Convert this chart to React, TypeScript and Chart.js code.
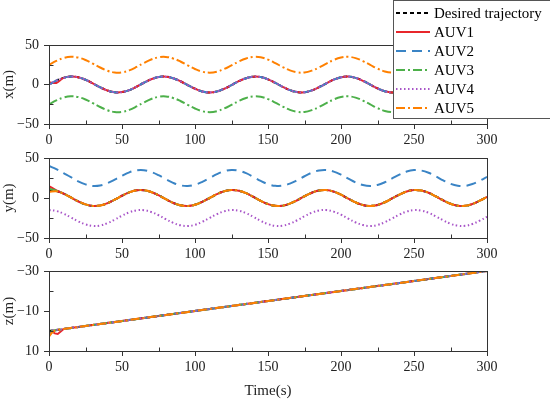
import { useEffect, useRef } from "react";
import { Chart, registerables } from "chart.js";

Chart.register(...registerables);

// sample times (s) for the x and y panels
const TIME = [
  0, 5, 10, 15, 20, 25, 30, 35, 40, 45, 50, 55, 60, 65, 70, 75, 80, 85, 90, 95, 100,
  105, 110, 115, 120, 125, 130, 135, 140, 145, 150, 155, 160, 165, 170, 175, 180, 185,
  190, 195, 200, 205, 210, 215, 220, 225, 230, 235, 240, 245, 250, 255, 260, 265, 270,
  275, 280, 285, 290, 295, 300,
];

const DESIRED_X = [
  0, 4.8, 8.4, 10.0, 9.1, 6.0, 1.4, -3.5, -7.6, -9.8, -9.6, -7.1, -2.8, 2.2, 6.6, 9.4,
  9.9, 8.0, 4.1, -0.8, -5.4, -8.8, -10.0, -8.8, -5.4, -0.7, 4.2, 8.0, 9.9, 9.4, 6.5, 2.1,
  -2.9, -7.1, -9.6, -9.8, -7.5, -3.4, 1.5, 6.1, 9.1, 10.0, 8.4, 4.7, -0.1, -4.9, -8.5,
  -10.0, -9.1, -5.9, -1.3, 3.6, 7.6, 9.8, 9.6, 7.0, 2.7, -2.2, -6.6, -9.4, -9.9,
];
const AUV1_X_START = [3.0, 2.0];
const AUV3_X = [
  -25.0, -20.2, -16.6, -15.0, -15.9, -19.0, -23.6, -28.5, -32.6, -34.8, -34.6, -32.1,
  -27.8, -22.8, -18.4, -15.6, -15.1, -17.0, -20.9, -25.8, -30.4, -33.8, -35.0, -33.8,
  -30.4, -25.7, -20.8, -17.0, -15.1, -15.6, -18.5, -22.9, -27.9, -32.1, -34.6, -34.8,
  -32.5, -28.4, -23.5, -18.9, -15.9, -15.0, -16.6, -20.3, -25.1, -29.9, -33.5, -35.0,
  -34.1, -30.9, -26.3, -21.4, -17.4, -15.2, -15.4, -18.0, -22.3, -27.2, -31.6, -34.4, -34.9,
];
const AUV5_X = [
  25.0, 29.8, 33.4, 35.0, 34.1, 31.0, 26.4, 21.5, 17.4, 15.2, 15.4, 17.9, 22.2, 27.2,
  31.6, 34.4, 34.9, 33.0, 29.1, 24.2, 19.6, 16.2, 15.0, 16.2, 19.6, 24.3, 29.2, 33.0,
  34.9, 34.4, 31.5, 27.1, 22.1, 17.9, 15.4, 15.2, 17.5, 21.6, 26.5, 31.1, 34.1, 35.0,
  33.4, 29.7, 24.9, 20.1, 16.5, 15.0, 15.9, 19.1, 23.7, 28.6, 32.6, 34.8, 34.6, 32.0,
  27.7, 22.8, 18.4, 15.6, 15.1,
];

const DESIRED_Y = [
  10.0, 8.8, 5.4, 0.7, -4.2, -8.0, -9.9, -9.4, -6.5, -2.1, 2.8, 7.1, 9.6, 9.8, 7.5, 3.5,
  -1.5, -6.0, -9.1, -10.0, -8.4, -4.8, 0.0, 4.8, 8.4, 10.0, 9.1, 6.0, 1.4, -3.6, -7.6,
  -9.8, -9.6, -7.0, -2.8, 2.2, 6.6, 9.4, 9.9, 8.0, 4.1, -0.8, -5.5, -8.8, -10.0, -8.7,
  -5.3, -0.6, 4.2, 8.1, 9.9, 9.3, 6.5, 2.0, -2.9, -7.2, -9.6, -9.8, -7.5, -3.4, 1.5,
];
const AUV1_Y_START = [15.0, 9.5];
const AUV3_Y_START = [11.5, 9.2];
const AUV5_Y_START = [7.5, 8.4];
const AUV2_Y = [
  40.0, 36.0, 31.0, 26.0, 20.8, 17.0, 15.1, 15.6, 18.5, 22.9, 27.8, 32.1, 34.6, 34.8,
  32.5, 28.5, 23.5, 19.0, 15.9, 15.0, 16.6, 20.2, 25.0, 29.8, 33.4, 35.0, 34.1, 31.0,
  26.4, 21.4, 17.4, 15.2, 15.4, 18.0, 22.2, 27.2, 31.6, 34.4, 34.9, 33.0, 29.1, 24.2,
  19.5, 16.2, 15.0, 16.3, 19.7, 24.4, 29.2, 33.1, 34.9, 34.3, 31.5, 27.0, 22.1, 17.8,
  15.4, 15.2, 17.5, 21.6, 26.5,
];
const AUV4_Y = [
  -15.0, -16.2, -19.6, -24.3, -29.2, -33.0, -34.9, -34.4, -31.5, -27.1, -22.2, -17.9,
  -15.4, -15.2, -17.5, -21.5, -26.5, -31.0, -34.1, -35.0, -33.4, -29.8, -25.0, -20.2,
  -16.6, -15.0, -15.9, -19.0, -23.6, -28.6, -32.6, -34.8, -34.6, -32.0, -27.8, -22.8,
  -18.4, -15.6, -15.1, -17.0, -20.9, -25.8, -30.5, -33.8, -35.0, -33.7, -30.3, -25.6,
  -20.8, -16.9, -15.1, -15.7, -18.5, -23.0, -27.9, -32.2, -34.6, -34.8, -32.5, -28.4, -23.5,
];

// z panel: a short start-up wobble, then a straight dive
const Z_TIME = [0, 2, 4, 6, 8, 10, 300];
const DESIRED_Z = [0, -0.2, -0.4, -0.6, -0.8, -1.0, -30];
const AUV1_Z = [1.0, 0.2, 1.2, 1.5, 0.3, -1.0, -30];
const AUV2_Z = [2.0, 0.5, -0.2, -0.6, -0.8, -1.0, -30];
const AUV3_Z = [1.5, 0.0, -0.4, -0.6, -0.8, -1.0, -30];
const AUV4_Z = [0.5, -0.3, -0.4, -0.6, -0.8, -1.0, -30];
const AUV5_Z = [2.8, 0.8, -0.2, -0.6, -0.8, -1.0, -30];

const X_TICKS_MINOR = [25, 75, 125, 175, 225, 275];

const LABELS = ["Desired trajectory", "AUV1", "AUV2", "AUV3", "AUV4", "AUV5"];
const COLORS = ["#000000", "#e8262b", "#3a84c5", "#4db04a", "#a855c8", "#ff8000"];
const DASHES = [[4, 3], [], [10, 6], [9, 3, 2, 3], [1.5, 2.5], [9, 3, 2, 3]];

const FONT = "'Liberation Serif', 'Times New Roman', serif";
const minus = (v: number | string) => String(v).replace("-", "\u2212");

const framePlugin = {
  id: "frame",
  afterDraw(chart: any, _args: any, opts: any) {
    const { ctx, chartArea: a, scales } = chart;
    const l = Math.round(a.left) + 0.5;
    const r = Math.round(a.right) + 0.5;
    const t = Math.round(a.top) + 0.5;
    const b = Math.round(a.bottom) + 0.5;
    ctx.save();
    ctx.strokeStyle = "#333";
    ctx.lineWidth = 1;
    ctx.setLineDash([]);
    ctx.strokeRect(l, t, r - l, b - t);
    ctx.beginPath();
    for (const v of opts.minorX || []) {
      const px = Math.round(scales.x.getPixelForValue(v)) + 0.5;
      ctx.moveTo(px, b);
      ctx.lineTo(px, b - 4);
    }
    for (const v of opts.minorY || []) {
      const py = Math.round(scales.y.getPixelForValue(v)) + 0.5;
      ctx.moveTo(l, py);
      ctx.lineTo(l + 4, py);
    }
    ctx.stroke();

    if (opts.legend) {
      ctx.fillStyle = "#fff";
      ctx.fillRect(393.5, 0.5, 160, 118);
      ctx.strokeStyle = "#555";
      ctx.strokeRect(393.5, 0.5, 160, 118);
      ctx.font = `15px ${FONT}`;
      ctx.textBaseline = "middle";
      LABELS.forEach((label, i) => {
        const y = 13 + i * 19;
        ctx.strokeStyle = COLORS[i];
        ctx.lineWidth = 2;
        ctx.setLineDash(DASHES[i]);
        ctx.beginPath();
        ctx.moveTo(396, y);
        ctx.lineTo(430, y);
        ctx.stroke();
        ctx.fillStyle = "#000";
        ctx.fillText(label, 434, y + 1);
      });
    }
    ctx.restore();
  },
};

type PanelProps = {
  top: number;
  height: number;
  padTop: number;
  axisHeight: number;
  yTitle: string;
  yMin: number;
  yMax: number;
  yStep: number;
  reverse?: boolean;
  minorY: number[];
  showTime?: boolean;
  legend?: boolean;
  times: number[];
  values: number[][];
  tension: number;
};

function Panel(p: PanelProps) {
  const ref = useRef<HTMLCanvasElement>(null);

  useEffect(() => {
    if (!ref.current) return;
    const ctx = ref.current.getContext("2d");
    if (!ctx) return;

    const tickFont = { family: FONT, size: 14 };
    const titleFont = { family: FONT, size: 15 };

    const chart = new Chart(ctx, {
      type: "line",
      data: {
        datasets: p.values.map((vals, i) => ({
          label: LABELS[i],
          data: p.times.map((t, j) => ({ x: t, y: vals[j] })),
          borderColor: COLORS[i],
          borderDash: DASHES[i],
          borderWidth: 2,
          pointRadius: 0,
          tension: p.tension,
          fill: false,
          order: 5 - i,
        })),
      },
      options: {
        responsive: false,
        animation: false,
        events: [],
        layout: { padding: { top: p.padTop, right: 63, left: 0, bottom: 0 } },
        plugins: {
          legend: { display: false },
          tooltip: { enabled: false },
          frame: { minorX: X_TICKS_MINOR, minorY: p.minorY, legend: !!p.legend },
        } as any,
        scales: {
          x: {
            type: "linear",
            min: 0,
            max: 300,
            afterFit: (s: any) => {
              s.height = p.axisHeight;
            },
            ticks: {
              stepSize: 50,
              autoSkip: false,
              maxRotation: 0,
              padding: 3,
              color: "#222",
              font: tickFont,
            },
            grid: { drawOnChartArea: false, tickLength: 5, color: "#333" },
            border: { color: "#333" },
            title: {
              display: !!p.showTime,
              text: "Time(s)",
              color: "#222",
              font: titleFont,
              padding: { top: 0, bottom: 0 },
            },
          },
          y: {
            type: "linear",
            min: p.yMin,
            max: p.yMax,
            reverse: !!p.reverse,
            afterFit: (s: any) => {
              s.width = 49;
            },
            ticks: {
              stepSize: p.yStep,
              padding: 5,
              color: "#222",
              font: tickFont,
              callback: (v: any) => minus(v),
            },
            grid: { drawOnChartArea: false, tickLength: 5, color: "#333" },
            border: { color: "#333" },
            title: {
              display: true,
              text: p.yTitle,
              color: "#222",
              font: titleFont,
              padding: { top: 0, bottom: 0 },
            },
          },
        },
      },
      plugins: [framePlugin],
    });

    return () => {
      chart.destroy();
    };
  }, []);

  return (
    <canvas
      ref={ref}
      width={550}
      height={p.height}
      style={{ position: "absolute", left: 0, top: p.top, width: 550, height: p.height }}
    />
  );
}

export default function App() {
  const auv1X = [...AUV1_X_START, ...DESIRED_X.slice(AUV1_X_START.length)];
  const auv1Y = [...AUV1_Y_START, ...DESIRED_Y.slice(2)];
  const auv3Y = [...AUV3_Y_START, ...DESIRED_Y.slice(2)];
  const auv5Y = [...AUV5_Y_START, ...DESIRED_Y.slice(2)];

  return (
    <div style={{ position: "absolute", left: 0, top: 0, width: 550, height: 400, background: "#fff" }}>
      <Panel
        top={0}
        height={145}
        padTop={45}
        axisHeight={21}
        yTitle="x(m)"
        yMin={-50}
        yMax={50}
        yStep={50}
        minorY={[-25, 25]}
        legend
        times={TIME}
        values={[DESIRED_X, auv1X, DESIRED_X, AUV3_X, DESIRED_X, AUV5_X]}
        tension={0.4}
      />
      <Panel
        top={140}
        height={120}
        padTop={18}
        axisHeight={22}
        yTitle="y(m)"
        yMin={-50}
        yMax={50}
        yStep={50}
        minorY={[-25, 25]}
        times={TIME}
        values={[DESIRED_Y, auv1Y, AUV2_Y, auv3Y, AUV4_Y, auv5Y]}
        tension={0.4}
      />
      <Panel
        top={255}
        height={145}
        padTop={16}
        axisHeight={49}
        yTitle="z(m)"
        yMin={-30}
        yMax={10}
        yStep={20}
        reverse
        minorY={[-20, 0]}
        showTime
        times={Z_TIME}
        values={[DESIRED_Z, AUV1_Z, AUV2_Z, AUV3_Z, AUV4_Z, AUV5_Z]}
        tension={0}
      />
    </div>
  );
}
